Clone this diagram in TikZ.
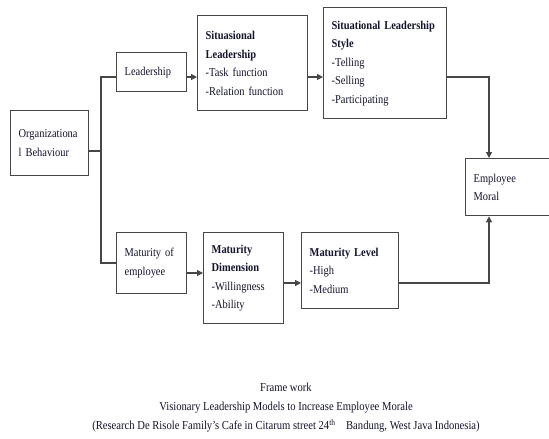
\documentclass[tikz,border=0pt]{standalone}
\usepackage{fontspec}
\setmainfont[FakeStretch=0.87]{Liberation Serif}
\usetikzlibrary{arrows.meta}
\definecolor{linec}{RGB}{70,70,70}
\definecolor{txtc}{RGB}{20,20,45}
\tikzset{
  box/.style={draw=linec, line width=1.3pt, rectangle, anchor=north west, inner xsep=8pt, inner ysep=0pt,
    align=left, text=txtc, font=\fontsize{12}{18.5}\selectfont},
  conn/.style={draw=linec, line width=1.2pt},
  arr/.style={conn, -{Triangle[length=6pt,width=6pt]}},
}
\begin{document}
\begin{tikzpicture}[x=1pt,y=-1pt]
\useasboundingbox (0,0) rectangle (549,439);
\clip (0,0) rectangle (549,439);
\fill[white] (0,0) rectangle (549,439);

\node[box, minimum width=78pt, minimum height=65pt, text width=62pt] (org) at (10,110) {Organizationa\\l Behaviour\\[-3pt]};
\node[box, minimum width=70pt, minimum height=39pt, text width=54pt] (lead) at (116,52) {Leadership};
\node[box, minimum width=110pt, minimum height=95pt, text width=94pt] (sit) at (197,15) {\textbf{Situasional}\\\textbf{Leadership}\\-Task function\\-Relation function};
\node[box, minimum width=123pt, minimum height=111pt, text width=107pt] (sls) at (323,7) {\textbf{Situational Leadership}\\\textbf{Style}\\-Telling\\-Selling\\-Participating};
\node[box, minimum width=100pt, minimum height=57pt, text width=84pt] (emp) at (465,158) {Employee\\Moral};
\node[box, minimum width=70pt, minimum height=61pt, text width=54pt] (mat) at (116,232) {Maturity of\\employee\\[-3pt]};
\node[box, minimum width=80pt, minimum height=91pt, text width=64pt] (md) at (203,232) {\textbf{Maturity}\\\textbf{Dimension}\\-Willingness\\-Ability};
\node[box, minimum width=97pt, minimum height=76pt, text width=81pt] (ml) at (301,232) {\textbf{Maturity Level}\\-High\\-Medium};

\coordinate (jo) at (101,151);
\coordinate (j1) at (101,77);
\coordinate (j2) at (101,263);
\coordinate (ex) at (489,0);

\draw[conn] (org.east |- jo) -- (jo);
\draw[conn] (lead.west |- j1) -- (j1) -- (j2) -- (mat.west |- j2);
\draw[arr] (lead.east |- 0,77) -- (sit.west |- 0,77);
\draw[arr] (sit.east |- 0,77) -- (sls.west |- 0,77);
\draw[arr] (sls.east |- 0,77) -| (emp.north -| ex);
\draw[arr] (mat.east |- 0,273) -- (md.west |- 0,273);
\draw[arr] (md.east |- 0,283) -- (ml.west |- 0,283);
\draw[arr] (ml.east |- 0,283) -| (emp.south -| ex);

\node[align=center, text=txtc, font=\fontsize{12.2}{19}\selectfont, anchor=north, inner sep=0pt] (cap) at (286,383)
  {Frame work\\Visionary Leadership Models to Increase Employee Morale\\(Research De Risole Family's Cafe in Citarum street 24\textsuperscript{th}\ \ \ \ Bandung, West Java Indonesia)};
\end{tikzpicture}
\end{document}
